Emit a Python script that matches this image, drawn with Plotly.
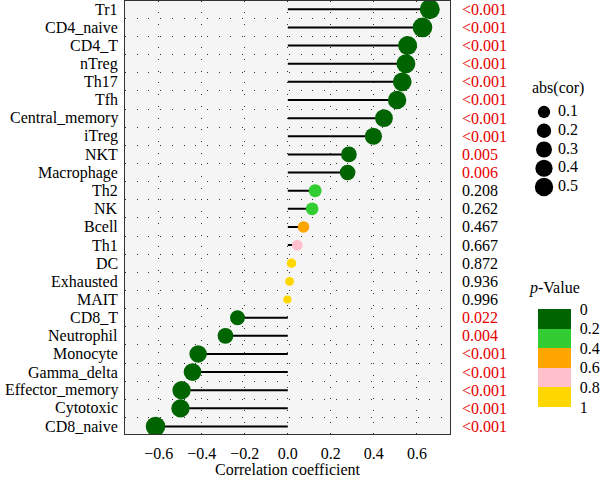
import plotly.graph_objects as go

# ---------------- data (top to bottom as in the chart) ----------------
cells = ["Tr1", "CD4_naive", "CD4_T", "nTreg", "Th17", "Tfh", "Central_memory",
         "iTreg", "NKT", "Macrophage", "Th2", "NK", "Bcell", "Th1", "DC",
         "Exhausted", "MAIT", "CD8_T", "Neutrophil", "Monocyte", "Gamma_delta",
         "Effector_memory", "Cytotoxic", "CD8_naive"]
cor = [0.660, 0.626, 0.557, 0.549, 0.532, 0.508, 0.447,
       0.398, 0.284, 0.278, 0.127, 0.113, 0.073, 0.044, 0.017,
       0.008, -0.002, -0.234, -0.290, -0.417, -0.443,
       -0.494, -0.499, -0.615]
p_label = ["<0.001", "<0.001", "<0.001", "<0.001", "<0.001", "<0.001", "<0.001",
           "<0.001", "0.005", "0.006", "0.208", "0.262", "0.467", "0.667", "0.872",
           "0.936", "0.996", "0.022", "0.004", "<0.001", "<0.001",
           "<0.001", "<0.001", "<0.001"]
size_breaks = [0.1, 0.2, 0.3, 0.4, 0.5]
pval_ticks = [0, 0.2, 0.4, 0.6, 0.8, 1]
pval_ticktext = ["1", "0.8", "0.6", "0.4", "0.2", "0"]
x_ticks = [-0.6, -0.4, -0.2, 0.0, 0.2, 0.4, 0.6]

# ---------------- helpers ----------------
W, H = 600, 479
FONT = "Liberation Serif"
FS = 16


def pnum(s):
    return 0.0005 if s.startswith("<") else float(s)


def diam(v):
    return 7.5 + 12.5 * (abs(v) / 0.66) ** 0.5


pvals = [pnum(s) for s in p_label]
colorscale = [[0.0, "#FFD700"], [0.2, "#FFD700"], [0.2, "#FFC0CB"], [0.4, "#FFC0CB"],
              [0.4, "#FFA500"], [0.6, "#FFA500"], [0.6, "#32CD32"], [0.8, "#32CD32"],
              [0.8, "#006400"], [1.0, "#006400"]]


def px_x(x):
    return x / W


def px_y(y):
    return 1 - y / H


fig = go.Figure()

# lollipop stems
sx, sy = [], []
for c, v in zip(cells, cor):
    sx += [0, v, None]
    sy += [c, c, None]
fig.add_trace(go.Scatter(x=sx, y=sy, mode="lines", line=dict(color="black", width=2),
                         hoverinfo="skip", showlegend=False))

# lollipop heads
fig.add_trace(go.Scatter(
    x=cor, y=cells, mode="markers", showlegend=False,
    marker=dict(size=[diam(v) for v in cor], color=[1 - p for p in pvals],
                colorscale=colorscale, cmin=0, cmax=1, opacity=1,
                line=dict(width=0),
                showscale=True,
                colorbar=dict(x=px_x(538), xanchor="left", y=px_y(309), yanchor="top",
                              lenmode="pixels", len=98, thicknessmode="pixels", thickness=33,
                              xpad=0, ypad=0, outlinewidth=0,
                              tickvals=pval_ticks, ticktext=pval_ticktext,
                              ticks="outside", ticklen=6, tickcolor="rgba(0,0,0,0)",
                              tickfont=dict(family=FONT, size=FS, color="black"))),
))

# size legend on auxiliary axes
fig.add_trace(go.Scatter(x=[24] * len(size_breaks), y=list(range(len(size_breaks))),
                         mode="markers", xaxis="x2", yaxis="y2", showlegend=False,
                         marker=dict(size=[diam(b) for b in size_breaks], color="black",
                                     opacity=1, line=dict(width=0)), hoverinfo="skip"))
fig.add_trace(go.Scatter(x=[38] * len(size_breaks), y=list(range(len(size_breaks))),
                         mode="text", text=[str(b) for b in size_breaks],
                         textposition="middle right", xaxis="x2", yaxis="y2",
                         textfont=dict(family=FONT, size=FS, color="black"),
                         showlegend=False, hoverinfo="skip"))

annotations = []
# category labels (left of panel)
for c in cells:
    annotations.append(dict(x=px_x(120), xref="paper", y=c, yref="y", text=c,
                            showarrow=False, xanchor="right", yanchor="middle",
                            font=dict(family=FONT, size=16, color="black")))
# p-value labels (right of panel)
for c, s, p in zip(cells, p_label, pvals):
    annotations.append(dict(x=px_x(460), xref="paper", y=c, yref="y", text=s,
                            showarrow=False, xanchor="left", yanchor="middle",
                            font=dict(family=FONT, size=FS, color="#E60000" if p < 0.05 else "black")))
annotations.append(dict(x=px_x(530), xref="paper", y=px_y(88), yref="paper", text="abs(cor)",
                        showarrow=False, xanchor="left", yanchor="middle",
                        font=dict(family=FONT, size=FS, color="black")))
annotations.append(dict(x=px_x(527), xref="paper", y=px_y(288), yref="paper", text="<i>p</i>-Value",
                        showarrow=False, xanchor="left", yanchor="middle",
                        font=dict(family=FONT, size=FS, color="black")))
annotations.append(dict(x=px_x(287.5), xref="paper", y=px_y(469), yref="paper",
                        text="Correlation coefficient",
                        showarrow=False, xanchor="center", yanchor="middle",
                        font=dict(family=FONT, size=FS, color="black")))

top_px, bot_px = 0.5, 434
spacing = 18.14
r0 = -0.413
r1 = r0 + (bot_px - top_px) / spacing

dash = "1px,10.7px"
fig.update_layout(
    width=W, height=H, margin=dict(l=0, r=0, t=0, b=0),
    paper_bgcolor="white", plot_bgcolor="rgba(0,0,0,0)",
    font=dict(family=FONT, size=FS, color="black"),
    showlegend=False,
    xaxis=dict(domain=[px_x(125), px_x(450)], range=[-0.757, 0.754],
               tickmode="array", tickvals=x_ticks,
               ticktext=[("\u2212" if t < 0 else "") + f"{abs(t):.1f}" for t in x_ticks],
               showgrid=True, gridcolor="#333", gridwidth=1, griddash=dash,
               zeroline=False, showline=True, mirror=True, linecolor="#333", linewidth=1,
               ticks="outside", ticklen=5, tickcolor="rgba(0,0,0,0)", automargin=False,
               tickfont=dict(family=FONT, size=FS, color="black"), anchor="y"),
    yaxis=dict(domain=[px_y(bot_px), px_y(top_px)], range=[r0, r1],
               type="category", categoryorder="array", categoryarray=cells[::-1],
               tickson="boundaries", showticklabels=False, automargin=False,
               showgrid=True, gridcolor="#333", gridwidth=1, griddash=dash,
               zeroline=False, showline=True, mirror=True, linecolor="#333", linewidth=1,
               ticks="", anchor="x"),
    xaxis2=dict(domain=[px_x(520), 1.0], range=[0, 80], visible=False, anchor="y2",
                fixedrange=True),
    yaxis2=dict(domain=[px_y(200), px_y(100)],
                range=[(200 - 112) / 18.75, -(112 - 100) / 18.75],
                visible=False, anchor="x2", fixedrange=True),
    annotations=annotations,
    shapes=[dict(type="rect", xref="x domain", yref="y domain", x0=0, x1=1, y0=0, y1=1,
                 fillcolor="#F5F5F5", line=dict(width=0), layer="below")],
)

fig.write_html("out.html")
